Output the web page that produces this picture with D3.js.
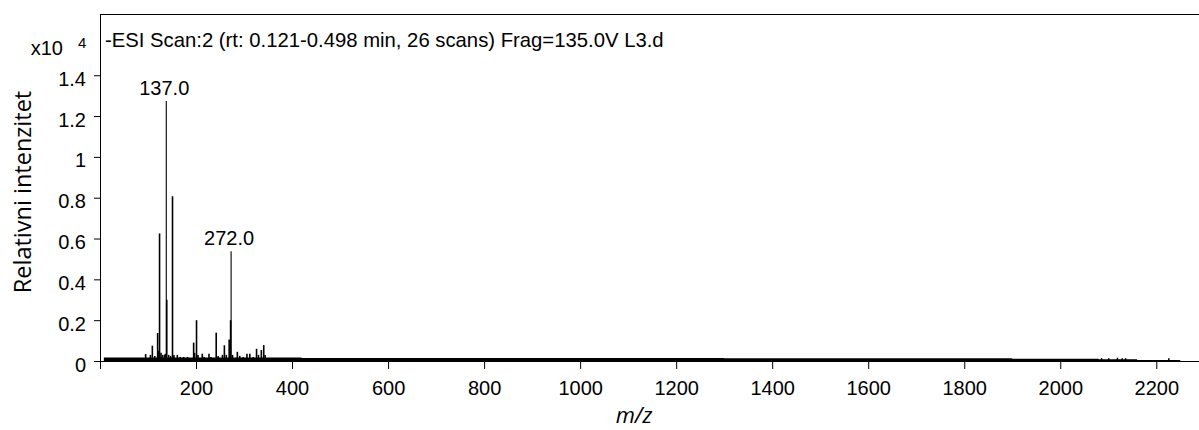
<!DOCTYPE html>
<html><head><meta charset="utf-8">
<script src="https://cdn.jsdelivr.net/npm/d3@7"></script>
<style>body{margin:0;background:#fff} svg{display:block}</style>
</head><body><svg id="c" width="1199" height="430"></svg>
<script>
// ---- data ----
const titleText = "-ESI Scan:2 (rt: 0.121-0.498 min, 26 scans) Frag=135.0V L3.d";
const yLabel = "Relativni intenzitet";
const xLabel = "m/z";
const yScaleNote = "x10";
const yScaleExp = "4";
const xTicks = [0, 200, 400, 600, 800, 1000, 1200, 1400, 1600, 1800, 2000, 2200];
const yTicks = [0, 0.2, 0.4, 0.6, 0.8, 1.0, 1.2, 1.4];
// peak m/z and intensity (x10^4)
const peakMz  = [94, 104, 108, 113, 119, 121, 123, 126, 129, 133, 135, 137, 138, 142, 146, 150, 153, 160, 166, 173, 181,
                 194, 196, 200, 203, 212, 216, 226, 230, 241, 245, 254, 258, 262, 268, 271, 272, 275, 285, 290, 297,
                 305, 311, 318, 325, 329, 335, 340, 343];
const peakInt = [0.034, 0.03, 0.075, 0.025, 0.137, 0.05, 0.625, 0.04, 0.03, 0.03, 0.035, 1.274, 0.30, 0.03, 0.025, 0.807, 0.03, 0.03, 0.02, 0.02, 0.02,
                 0.09, 0.04, 0.20, 0.03, 0.036, 0.02, 0.035, 0.02, 0.139, 0.025, 0.03, 0.077, 0.03, 0.105, 0.20, 0.538, 0.03, 0.045, 0.025, 0.02,
                 0.035, 0.035, 0.02, 0.06, 0.03, 0.054, 0.078, 0.03];
const labelMz  = [137.0, 272.0];
const labelInt = [1.274, 0.538];
// baseline noise band: segments [start, end] with level
const noiseStart = [8, 420, 1300, 1900, 2080, 2160];
const noiseEnd   = [420, 1300, 1900, 2080, 2160, 2250];
const noiseLevel = [0.017, 0.015, 0.014, 0.011, 0.008, 0.005];
const tailSpikeMz  = [2085, 2100, 2118, 2128, 2135, 2225];
const tailSpikeInt = [0.014, 0.014, 0.016, 0.014, 0.014, 0.014];

// ---- drawing ----
const svg = d3.select("#c");
const FONT = "'Liberation Sans', Arial, sans-serif";
const x = d3.scaleLinear().domain([0, 2290]).range([100, 1199.5]);
const y = d3.scaleLinear().domain([0, 1.7]).range([361, 14]);

// noise band
const noisePts = [];
noiseStart.forEach((s, i) => { noisePts.push([s, noiseLevel[i]]); noisePts.push([noiseEnd[i], noiseLevel[i]]); });
svg.append("path")
  .attr("d", d3.area().x(d => x(d[0])).y0(y(0)).y1(d => y(d[1]))(noisePts))
  .attr("fill", "#000");
svg.append("g").selectAll("line").data(tailSpikeMz).join("line")
  .attr("x1", d => x(d) + 0.5).attr("x2", d => x(d) + 0.5)
  .attr("y1", y(0)).attr("y2", (d, i) => y(tailSpikeInt[i]))
  .attr("stroke", "#000").attr("stroke-width", 1.5);

// peaks
svg.append("g").selectAll("line").data(peakMz).join("line")
  .attr("x1", d => x(d) + 0.5).attr("x2", d => x(d) + 0.5)
  .attr("y1", y(0)).attr("y2", (d, i) => y(peakInt[i]))
  .attr("stroke", "#000").attr("stroke-width", (d, i) => (peakMz[i] === 137 || peakMz[i] === 272) ? 1.1 : 1.6);

// axes
const gx = svg.append("g").attr("transform", "translate(0,361)")
  .call(d3.axisBottom(x).tickValues(xTicks).tickSize(8).tickSizeOuter(0).tickPadding(12)
    .tickFormat(d => d === 0 ? "" : String(d)));
const gy = svg.append("g").attr("transform", "translate(100,0)")
  .call(d3.axisLeft(y).tickValues(yTicks).tickSize(6).tickSizeOuter(0).tickPadding(8)
    .tickFormat(d => (d === 0 || d === 1) ? String(d) : d.toFixed(1)));
[gx, gy].forEach(g => {
  g.attr("font-family", FONT).attr("font-size", 20);
  g.selectAll("path,line").attr("stroke", "#000");
  g.selectAll("text").attr("fill", "#000");
});
gy.selectAll("text").attr("dy", "0.5em");

// top frame line
svg.append("line").attr("x1", 100).attr("x2", 1199).attr("y1", 14.5).attr("y2", 14.5)
  .attr("stroke", "#000").attr("stroke-width", 1);

// title
svg.append("text").attr("x", 105).attr("y", 47).attr("font-family", FONT).attr("font-size", 20.3)
  .attr("fill", "#000").text(titleText);

// x10^4
svg.append("text").attr("x", 63).attr("y", 55).attr("text-anchor", "end")
  .attr("font-family", FONT).attr("font-size", 20).attr("fill", "#000").text(yScaleNote);
svg.append("text").attr("x", 78).attr("y", 47.5)
  .attr("font-family", FONT).attr("font-size", 15).attr("fill", "#000").text(yScaleExp);

// peak labels
svg.append("g").selectAll("text").data(labelMz).join("text")
  .attr("x", d => x(d) - 1.5).attr("y", (d, i) => y(labelInt[i]) - 6)
  .attr("text-anchor", "middle").attr("font-family", FONT).attr("font-size", 20).attr("fill", "#000")
  .text(d => d.toFixed(1));

// axis titles
svg.append("text").attr("transform", "translate(31,192) rotate(-90)")
  .attr("text-anchor", "middle").attr("font-family", "'Open Sans', sans-serif").attr("font-size", 23.5)
  .attr("fill", "#000").text(yLabel);
svg.append("text").attr("x", 634).attr("y", 423)
  .attr("text-anchor", "middle").attr("font-family", "'Open Sans', sans-serif").attr("font-style", "italic")
  .attr("font-size", 22).attr("fill", "#000").text(xLabel);
</script></body></html>
